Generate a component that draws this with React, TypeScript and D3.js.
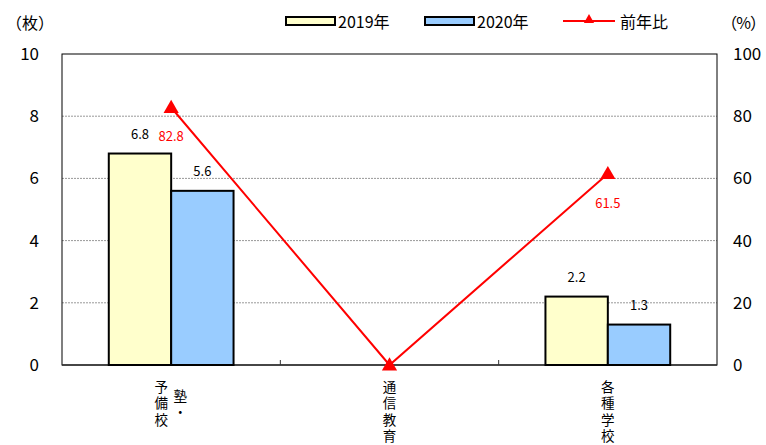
import React from 'react';
import * as d3 from 'd3';

// categories are drawn as vertical text columns (right column first in the source)
const CATEGORIES = ['塾・予備校', '通信教育', '各種学校'];
const LABEL_COLUMNS = [['予備校', '塾・'], ['通信教育'], ['各種学校']];
const VALUES_2019: (number | null)[] = [6.8, null, 2.2];
const VALUES_2020: (number | null)[] = [5.6, null, 1.3];
const RATIO: number[] = [82.8, 0, 61.5];
const RATIO_LABELS: (string | null)[] = ['82.8', null, '61.5'];
const LEFT_TICKS = [0, 2, 4, 6, 8, 10];
const RIGHT_TICKS = [0, 20, 40, 60, 80, 100];

const W = 766;
const H = 445;
const margin = { top: 54, right: 49, bottom: 80, left: 62 };
const FONT = '"Noto Sans CJK JP", "Liberation Sans", sans-serif';
const YELLOW = '#FFFFCC';
const BLUE = '#99CCFF';
const RED = '#FF0000';

const App: React.FC = () => {
  const x0 = margin.left;
  const x1 = W - margin.right;
  const y0 = H - margin.bottom;
  const y1 = margin.top;

  const xBand = d3.scaleBand<string>().domain(CATEGORIES).range([x0, x1]);
  const inner = d3
    .scaleBand<string>()
    .domain(['2019', '2020'])
    .range([0, xBand.bandwidth()])
    .paddingOuter(0.75);
  const yLeft = d3.scaleLinear().domain([0, 10]).range([y0, y1]);
  const yRight = d3.scaleLinear().domain([0, 100]).range([y0, y1]);

  const cx = (c: string) => (xBand(c) as number) + xBand.bandwidth() / 2;
  const line = d3
    .line<number>()
    .x((_, i) => cx(CATEGORIES[i]))
    .y((d) => yRight(d));
  const tri = d3.symbol().type(d3.symbolTriangle).size(100)() as string;
  const triSmall = d3.symbol().type(d3.symbolTriangle).size(45)() as string;

  const bars: { cat: string; key: string; v: number; fill: string }[] = [];
  CATEGORIES.forEach((c, i) => {
    const a = VALUES_2019[i];
    const b = VALUES_2020[i];
    if (a != null) bars.push({ cat: c, key: '2019', v: a, fill: YELLOW });
    if (b != null) bars.push({ cat: c, key: '2020', v: b, fill: BLUE });
  });

  return (
    <svg
      width={W}
      height={H}
      style={{ position: 'absolute', left: 0, top: 0, background: '#fff' }}
      fontFamily={FONT}
    >
      {/* grid lines */}
      {LEFT_TICKS.filter((t) => t > 0 && t < 10).map((t) => (
        <line
          key={t}
          x1={x0}
          x2={x1}
          y1={yLeft(t)}
          y2={yLeft(t)}
          stroke="#999"
          strokeWidth={1}
          strokeDasharray="2,1"
        />
      ))}

      {/* plot frame */}
      <rect x={x0} y={y1} width={x1 - x0} height={y0 - y1} fill="none" stroke="#000" strokeWidth={1} />
      <line x1={x0} x2={x1} y1={y0} y2={y0} stroke="#333" strokeWidth={1.5} />
      {CATEGORIES.slice(1).map((c) => (
        <line
          key={c}
          x1={xBand(c)}
          x2={xBand(c)}
          y1={y0}
          y2={y0 - 5}
          stroke="#333"
          strokeWidth={1}
        />
      ))}

      {/* bars */}
      {bars.map((b) => {
        const bx = (xBand(b.cat) as number) + (inner(b.key) as number);
        const by = yLeft(b.v);
        return (
          <g key={b.cat + b.key}>
            <rect
              x={bx}
              y={by}
              width={inner.bandwidth()}
              height={y0 - by}
              fill={b.fill}
              stroke="#000"
              strokeWidth={2}
            />
            <text x={bx + inner.bandwidth() / 2} y={by - 15} textAnchor="middle" fontSize={13} fill="#000">
              {b.v.toFixed(1)}
            </text>
          </g>
        );
      })}

      {/* ratio line */}
      <path d={line(RATIO) as string} fill="none" stroke={RED} strokeWidth={2} />
      {RATIO.map((v, i) => (
        <g key={i}>
          <path d={tri} transform={`translate(${cx(CATEGORIES[i])},${yRight(v) + 1})`} fill={RED} />
          {RATIO_LABELS[i] && (
            <text x={cx(CATEGORIES[i])} y={yRight(v) + 34} textAnchor="middle" fontSize={13} fill={RED}>
              {RATIO_LABELS[i]}
            </text>
          )}
        </g>
      ))}

      {/* left axis */}
      {LEFT_TICKS.map((t) => (
        <text key={t} x={39} y={yLeft(t) + 6} textAnchor="end" fontSize={17} fill="#000">
          {t}
        </text>
      ))}
      <text x={6} y={29} fontSize={16} fill="#000">（枚）</text>

      {/* right axis */}
      {RIGHT_TICKS.map((t) => (
        <text key={t} x={733} y={yRight(t) + 6} textAnchor="start" fontSize={17} fill="#000">
          {t}
        </text>
      ))}
      <text x={765} y={29} textAnchor="end" fontSize={16} fill="#000" letterSpacing={-1}>（%）</text>

      {/* category labels, vertical */}
      {CATEGORIES.map((c, i) => {
        const cols = LABEL_COLUMNS[i];
        return cols.map((col, j) => {
          const colX = cols.length > 1 ? cx(c) - 10 + j * 19 : cx(c);
          const startY = j === 0 ? y0 + 15 : y0 + 24;
          return (
            <text
              key={`${i}-${j}`}
              x={colX}
              y={startY}
              fontSize={13.5}
              letterSpacing={3}
              fill="#000"
              style={{ writingMode: 'vertical-rl' }}
            >
              {col}
            </text>
          );
        });
      })}

      {/* legend */}
      <rect x={286} y={17} width={49} height={8} fill={YELLOW} stroke="#000" strokeWidth={2} />
      <text x={338} y={28} fontSize={16} fill="#000">2019年</text>
      <rect x={425} y={17} width={49} height={8} fill={BLUE} stroke="#000" strokeWidth={2} />
      <text x={477} y={28} fontSize={16} fill="#000">2020年</text>
      <line x1={563} x2={615} y1={21} y2={21} stroke={RED} strokeWidth={2} />
      <path d={triSmall} transform="translate(589,20)" fill={RED} />
      <text x={620} y={28} fontSize={16} fill="#000">前年比</text>
    </svg>
  );
};

export default App;
